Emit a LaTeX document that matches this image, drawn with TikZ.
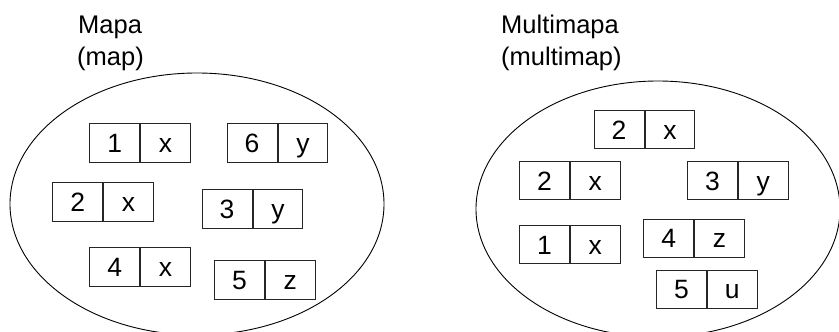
\documentclass[tikz,border=0pt]{standalone}
\usepackage{fontspec}
\setmainfont{Liberation Sans}
\usetikzlibrary{shapes.geometric}

% two-cell key/value box: name, top-left x, top-left y, key, value, height
\newcommand{\pairbox}[6]{%
  \node[cell, minimum height=#6pt, anchor=north west] (#1k) at (#2,#3) {#4};
  \node[cell, minimum height=#6pt, anchor=west] (#1v) at (#1k.east) {#5};
}

\begin{document}
\begin{tikzpicture}[x=1pt, y=-1pt,
  cell/.style={draw=black!85, line width=1pt, rectangle, inner sep=0pt,
    minimum width=49.8pt, text height=19pt, text depth=0pt,
    font=\fontsize{26.5pt}{30pt}\selectfont},
  setshape/.style={draw=black, line width=0.9pt, ellipse, inner sep=0pt},
  title/.style={anchor=base west, inner sep=0pt,
    font=\fontsize{25.5pt}{30pt}\selectfont}]
\useasboundingbox (0,0) rectangle (839,332);

% the two collections
\node[setshape, minimum width=374pt, minimum height=262pt] (mapset) at (197,204) {};
\node[setshape, minimum width=364pt, minimum height=256pt] (multiset) at (658,209) {};

% titles
\node[title] (maptitle) at (78,33) {Mapa};
\node[title] (mapsub) at (77,65) {(map)};
\node[title] (multititle) at (501,33) {Multimapa};
\node[title] (multisub) at (501,65) {(multimap)};

% map entries
\pairbox{ma}{89.3}{123.3}{1}{x}{39}
\pairbox{mb}{226.7}{123.3}{6}{y}{39}
\pairbox{mc}{52.3}{182}{2}{x}{39}
\pairbox{md}{201.7}{188.7}{3}{y}{39}
\pairbox{me}{89.3}{247.3}{4}{x}{39}
\pairbox{mf}{214}{260.3}{5}{z}{39}

% multimap entries
\pairbox{na}{593.7}{110.3}{2}{x}{38}
\pairbox{nb}{519}{161.3}{2}{x}{38}
\pairbox{nc}{687}{161.3}{3}{y}{38}
\pairbox{nd}{519}{225}{1}{x}{38}
\pairbox{ne}{643.3}{218.7}{4}{z}{38}
\pairbox{nf}{656}{269.7}{5}{u}{38}
\end{tikzpicture}
\end{document}
